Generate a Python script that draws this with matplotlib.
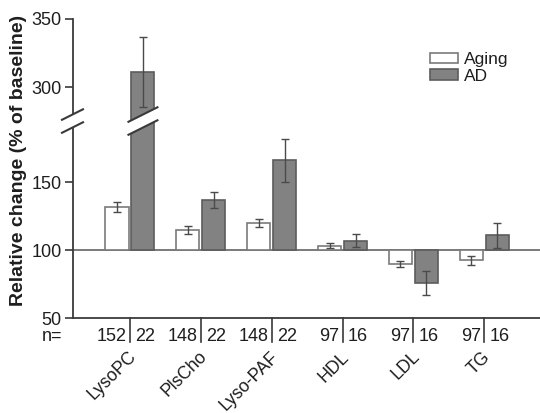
import numpy as np
import matplotlib
matplotlib.use('Agg')
import matplotlib.pyplot as plt
import matplotlib.transforms as mtransforms
from matplotlib.patches import Polygon, Patch
from matplotlib.lines import Line2D

# ---- data ----
categories = ['LysoPC', 'PlsCho', 'Lyso-PAF', 'HDL', 'LDL', 'TG']
aging = [132, 115, 120, 103.5, 90, 92.5]
aging_err = [3.6, 3, 3, 2, 2, 3.3]
ad = [311, 137, 166, 107, 76, 111]
ad_err = [26, 5.8, 16, 4.7, 9, 9]
n_aging = [152, 148, 148, 97, 97, 97]
n_ad = [22, 22, 22, 16, 16, 16]
yticks = [50, 100, 150, 300, 350]
baseline = 100

plt.rcParams['font.family'] = ['Liberation Sans', 'DejaVu Sans']
TXT = '#1e1e1e'
AX = '#3a3a3a'

# broken axis: values between 190 and 280 are compressed
xp = [-1e6, 190, 280, 1e6]
fp = [-1e6, 190, 200, 1e6 - 80]
def fwd(v):
    return np.interp(v, xp, fp)
def inv(u):
    return np.interp(u, fp, xp)

fig = plt.figure(figsize=(5.4, 4.13), dpi=100)
ax = fig.add_axes([72.5 / 540, 1 - 318.3 / 413, 1 - 72.5 / 540, (318.3 - 19) / 413])
ax.set_yscale('function', functions=(fwd, inv))
ax.set_ylim(50, 350)
ax.set_xlim(-0.811, 5.786)

x = np.arange(len(categories))
off, w = 0.183, 0.325

ax.axhline(baseline, color='#707070', lw=1.3, zorder=1)
ekw = dict(ecolor='#4a4a4a', elinewidth=1.0, capsize=3, capthick=1.0, zorder=4)
ax.bar(x - off, np.array(aging) - baseline, bottom=baseline, width=w,
       color='white', edgecolor='#7a7a7a', lw=1.2, yerr=aging_err,
       error_kw=ekw, zorder=3)
ax.bar(x + off, np.array(ad) - baseline, bottom=baseline, width=w,
       color='#828282', edgecolor='#5c5c5c', lw=1.2, yerr=ad_err,
       error_kw=ekw, zorder=3)

ax.set_yticks(yticks)
ax.set_yticklabels([str(t) for t in yticks])
ax.minorticks_off()
ax.set_xticks([])
ax.tick_params(axis='y', length=6, width=1.2, color=AX, labelsize=13,
               labelcolor=TXT, pad=2)
for s in ['top', 'right']:
    ax.spines[s].set_visible(False)
for s in ['left', 'bottom']:
    ax.spines[s].set_color(AX)
    ax.spines[s].set_linewidth(1.3)

# n labels and separators
bt = mtransforms.blended_transform_factory(ax.transData, ax.transAxes)
ax.text(-1.1, -0.061, 'n=', ha='center', va='center', transform=bt,
        fontsize=13, color=TXT)
for i in range(len(categories)):
    ax.plot([i, i], [0, -0.079], transform=bt, color=AX, lw=1.2, clip_on=False)
    ax.text(i - 0.045, -0.061, str(n_aging[i]), ha='right', va='center',
            transform=bt, fontsize=13, color=TXT)
    ax.text(i + 0.07, -0.061, str(n_ad[i]), ha='left', va='center',
            transform=bt, fontsize=13, color=TXT)
    ax.text(i + 0.14, -0.1, categories[i], rotation=45, ha='right', va='top',
            transform=bt, fontsize=12.7, color=TXT)

fig.text(19 / 540, 1 - 160 / 413, 'Relative change (% of baseline)',
         rotation=90, ha='center', va='center', fontsize=14,
         fontweight='bold', color=TXT)

handles = [Patch(facecolor='white', edgecolor='#7a7a7a', lw=1.2),
           Patch(facecolor='#828282', edgecolor='#5c5c5c', lw=1.2)]
fig.legend(handles, ['Aging', 'AD'], loc='upper left',
           bbox_to_anchor=(430 / 540, 1 - 52 / 413), frameon=False,
           handlelength=1.6, handleheight=0.56, labelspacing=0.1,
           handletextpad=0.35, borderpad=0, borderaxespad=0,
           fontsize=12.5, labelcolor=TXT)

# break marks
def break_mark(cx, cy, hw, gap=13.0, slope=0.5):
    g = gap / 2
    poly = [(cx - hw, cy - g - slope * hw), (cx + hw, cy - g + slope * hw),
            (cx + hw, cy + g + slope * hw), (cx - hw, cy + g - slope * hw)]
    fig.add_artist(Polygon(poly, closed=True, facecolor='white',
                           edgecolor='none', transform=None, zorder=5))
    for sgn in (-1, 1):
        fig.add_artist(Line2D([cx - hw, cx + hw],
                              [cy + sgn * g - slope * hw, cy + sgn * g + slope * hw],
                              color=AX, lw=1.5, transform=None, zorder=6))

ybreak = 235
cx0, cy0 = ax.transData.transform((ax.get_xlim()[0], ybreak))
break_mark(cx0, cy0, 10.5)
cx1, cy1 = ax.transData.transform((x[0] + off, ybreak))
break_mark(cx1, cy1, 14.5)

fig.savefig('out.png', dpi=100)
